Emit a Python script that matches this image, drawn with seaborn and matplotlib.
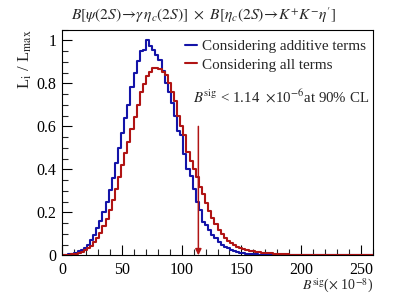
import numpy as np
import pandas as pd
import matplotlib
matplotlib.use("Agg")
import matplotlib.pyplot as plt
from matplotlib.ticker import MultipleLocator, FuncFormatter
import seaborn as sns

# ---------------- data ----------------
x_min, x_max, n_bins = 0.0, 260.0, 100
additive_terms = [
    0.001, 0.003, 0.005, 0.008, 0.012, 0.018, 0.025, 0.035, 0.05, 0.07,
    0.095, 0.125, 0.16, 0.20, 0.249, 0.304, 0.361, 0.428, 0.498, 0.567,
    0.637, 0.699, 0.784, 0.85, 0.904, 0.95, 0.956, 1.0, 0.975, 0.955,
    0.93, 0.91, 0.86, 0.80, 0.76, 0.71, 0.65, 0.58, 0.56, 0.47,
    0.40, 0.37, 0.31, 0.25, 0.21, 0.155, 0.14, 0.118, 0.095, 0.079,
    0.062, 0.049, 0.04, 0.032, 0.025, 0.02, 0.016, 0.012, 0.01, 0.008,
    0.006, 0.005, 0.004, 0.003, 0.002, 0.0015, 0.001, 0.001, 0.0005, 0,
    0, 0, 0, 0, 0, 0, 0, 0, 0, 0,
    0, 0, 0, 0, 0, 0, 0, 0, 0, 0,
    0, 0, 0, 0, 0, 0, 0, 0, 0, 0,
]
all_terms = [
    0.001, 0.002, 0.003, 0.005, 0.008, 0.012, 0.017, 0.024, 0.033, 0.045,
    0.06, 0.08, 0.105, 0.135, 0.17, 0.21, 0.257, 0.308, 0.366, 0.42,
    0.475, 0.529, 0.588, 0.645, 0.70, 0.761, 0.795, 0.835, 0.855, 0.87,
    0.872, 0.865, 0.855, 0.84, 0.80, 0.76, 0.72, 0.65, 0.60, 0.56,
    0.48, 0.44, 0.40, 0.366, 0.32, 0.285, 0.245, 0.205, 0.175, 0.148,
    0.12, 0.097, 0.08, 0.066, 0.055, 0.046, 0.039, 0.033, 0.028, 0.024,
    0.021, 0.018, 0.016, 0.014, 0.012, 0.011, 0.010, 0.009, 0.008, 0.007,
    0.006, 0.005, 0.004, 0.003, 0.002, 0.002, 0.001, 0.001, 0, 0,
    0, 0, 0, 0, 0, 0, 0, 0, 0, 0,
    0, 0, 0, 0, 0, 0, 0, 0, 0, 0,
]
series_labels = ["Considering additive terms", "Considering all terms"]
upper_limit = 114.0   # 1.14e-6 in units of 1e-8
x_ticks = [0, 50, 100, 150, 200, 250]

# ---------------- style ----------------
sns.set_theme(style="ticks")
plt.rcParams["font.family"] = ["Liberation Serif", "DejaVu Serif"]
plt.rcParams["mathtext.fontset"] = "stix"
plt.rcParams["axes.linewidth"] = 0.8

blue = "#1414a8"
red = "#b01414"

edges = np.linspace(x_min, x_max, n_bins + 1)
centers = 0.5 * (edges[:-1] + edges[1:])
df = pd.DataFrame({
    "x": np.concatenate([centers, centers]),
    "w": np.concatenate([additive_terms, all_terms]),
    "series": [series_labels[0]] * n_bins + [series_labels[1]] * n_bins,
})

fig = plt.figure(figsize=(4.15, 3.0), dpi=100)
ax = fig.add_axes([0.1494, 0.149, 0.7494, 0.752])

for lab, col in zip(series_labels, [blue, red]):
    sub = df[df["series"] == lab]
    sns.histplot(data=sub, x="x", weights="w", bins=n_bins,
                 binrange=(x_min, x_max), element="step",
                 fill=False, color=col, linewidth=1.5, ax=ax, label=lab)

ax.set_xlim(x_min, x_max)
ax.set_ylim(0, 1.05)
ax.set_xticks(x_ticks)
ax.xaxis.set_minor_locator(MultipleLocator(10))
ax.yaxis.set_major_locator(MultipleLocator(0.2))
ax.yaxis.set_minor_locator(MultipleLocator(0.05))
ax.yaxis.set_major_formatter(FuncFormatter(lambda v, p: "%g" % round(v, 2)))
ax.tick_params(which="major", direction="in", length=7, width=0.8,
               labelsize=11.5, pad=4, colors="black")
ax.tick_params(which="minor", direction="in", length=4, width=0.8)
ax.tick_params(axis="x", pad=5)
for s in ax.spines.values():
    s.set_color("black")

ax.set_xlabel(r"$B^{\mathrm{sig}}$($\times$ 10$^{\mathrm{-8}}$)", loc="right",
              fontsize=10, labelpad=-1)
ax.set_ylabel(r"L$_{\mathrm{i}}$ / L$_{\mathrm{max}}$", loc="top",
              fontsize=12, labelpad=2)

# arrow marking the upper limit
ax.annotate("", xy=(upper_limit, 0), xytext=(upper_limit, 0.6),
            arrowprops=dict(arrowstyle="-|>", color=red, lw=1.1,
                            mutation_scale=9, shrinkA=0, shrinkB=0))

ax.text(0.421, 0.675,
        r"$B^{\mathrm{sig}}$ < 1.14  $\times$10$^{\mathrm{-6}}$at 90% CL",
        transform=ax.transAxes, fontsize=10.7, ha="left", va="baseline")

leg = ax.legend(frameon=False, loc="upper left", bbox_to_anchor=(0.395, 0.955),
                fontsize=10.9, handlelength=0.8, handletextpad=0.35,
                borderpad=0, labelspacing=0.3, borderaxespad=0)

fig.text(0.49, 0.948,
         r"$B[\psi(2S)\!\rightarrow\!\gamma\,\eta_{c}(2S)]\ \times\ B[\eta_{c}(2S)\!\rightarrow\!K^{+}K^{-}\eta']$",
         ha="center", va="center", fontsize=11.2)

fig.savefig("out.png", dpi=100)
